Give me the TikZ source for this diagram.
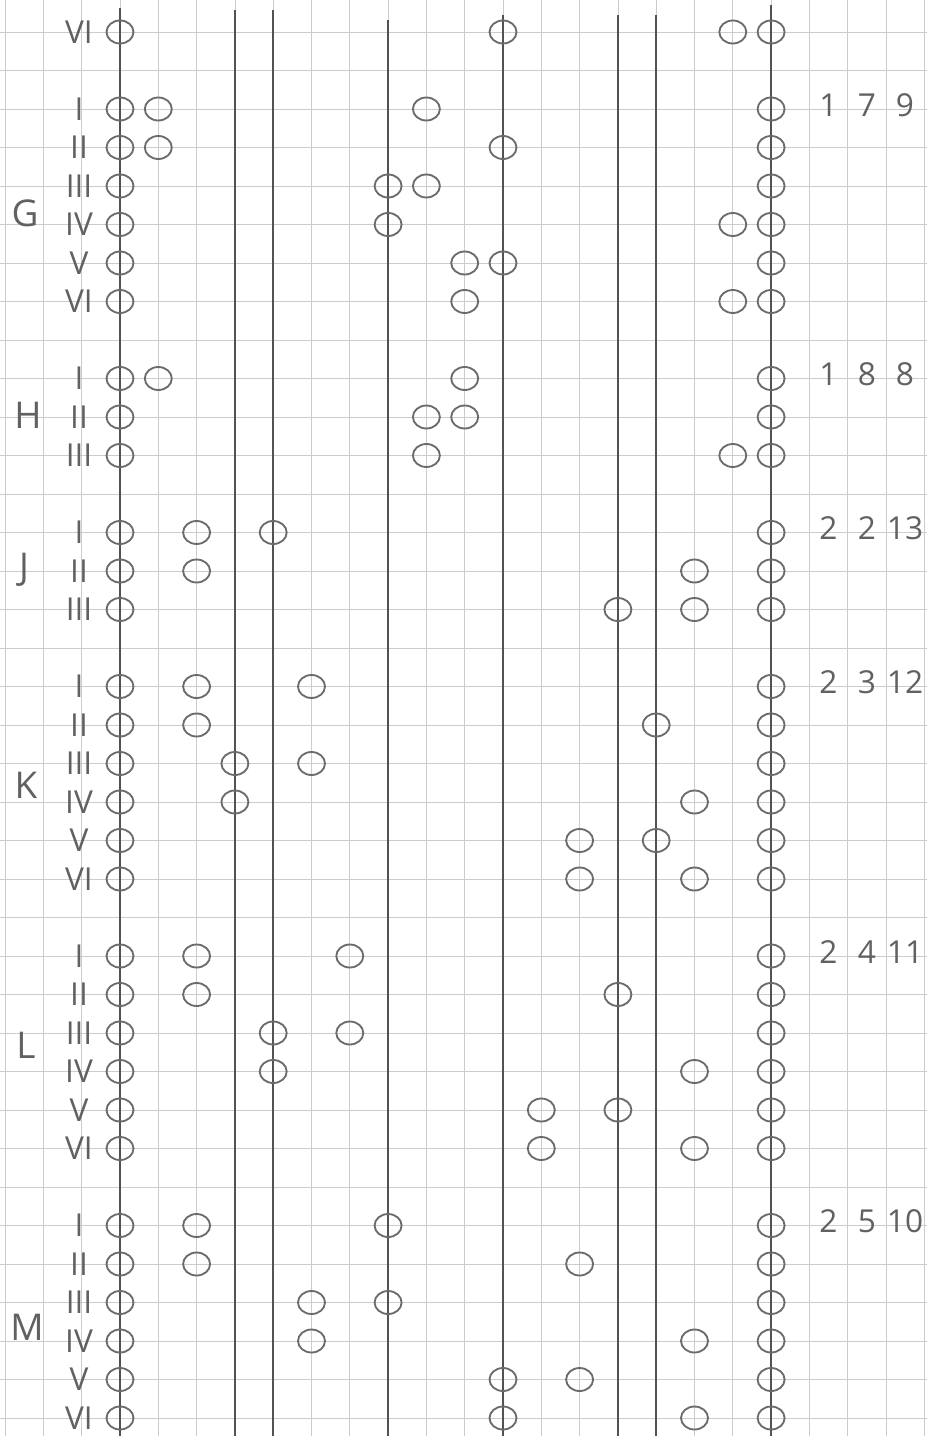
\documentclass[tikz,border=0pt]{standalone}
\usepackage{fontspec}
\setmainfont{Open Sans}
\usetikzlibrary{shapes.geometric}
\begin{document}
\begin{tikzpicture}[x=0.02cm,y=-0.02cm,
  gridline/.style={draw=black!20, line width=0.45pt},
  rule/.style={draw=black!68, line width=0.9pt},
  ring/.style={ellipse, draw=black!58, line width=1.05pt, minimum width=0.54cm, minimum height=0.46cm, inner sep=0pt},
  numeral/.style={text=black!62, inner sep=0pt, font=\fontsize{18}{18}\selectfont},
  group/.style={text=black!62, inner sep=0pt, font=\fontsize{21}{21}\selectfont},
  tally/.style={text=black!62, inner sep=0pt, font=\fontsize{18}{18}\selectfont}]
\fill[white] (0,0) rectangle (927,1436);
\useasboundingbox (0,0) rectangle (927,1436);
% graph paper
\foreach \n in {-3,...,21}
  \draw[gridline] ({120+38.3*\n},0) -- ({120+38.3*\n},1436);
\foreach \k in {0,...,36}
  \draw[gridline] (0,{32+38.5*\k}) -- (927,{32+38.5*\k});
% heavy vertical rules
\foreach \c/\t in {0/8,3/10,4/10,7/20,10/15,13/15,14/15,17/5} {
  \coordinate (top\c) at ({120+38.3*\c},\t);
  \coordinate (bot\c) at ({120+38.3*\c},1436);
  \draw[rule] (top\c) -- (bot\c);
}
% rings
\foreach \k/\a/\b in {0/10/16,
  2/1/8,3/1/10,4/7/8,5/7/16,6/9/10,7/9/16,
  9/1/9,10/8/9,11/8/16,
  13/2/4,14/2/15,15/13/15,
  17/2/5,18/2/14,19/3/5,20/3/15,21/12/14,22/12/15,
  24/2/6,25/2/13,26/4/6,27/4/15,28/11/13,29/11/15,
  31/2/7,32/2/12,33/5/7,34/5/15,35/10/12,36/10/15} {
  \foreach \c in {0,\a,\b,17}
    \node[ring] (o-\k-\c) at ({120+38.3*\c},{32+38.5*\k}) {};
}
% row numerals
\foreach \k/\r in {0/VI,
  2/I,3/II,4/III,5/IV,6/V,7/VI,
  9/I,10/II,11/III,
  13/I,14/II,15/III,
  17/I,18/II,19/III,20/IV,21/V,22/VI,
  24/I,25/II,26/III,27/IV,28/V,29/VI,
  31/I,32/II,33/III,34/IV,35/V,36/VI}
  \node[numeral] (n\k) at (79,{32+38.5*\k}) {\r};
% group letters
\node[group] (gG) at (25,213) {G};
\node[group] (gH) at (28,415) {H};
\node[group] (gJ) at (24,570) {J};
\node[group] (gK) at (26,785) {K};
\node[group] (gL) at (26,1045) {L};
\node[group] (gM) at (27,1327) {M};
% tallies
\foreach \k/\p/\q/\s in {2/1/7/9, 9/1/8/8, 13/2/2/13, 17/2/3/12, 24/2/4/11, 31/2/5/10} {
  \node[tally] (ta\k) at (828.5,{28+38.5*\k}) {\p};
  \node[tally] (tb\k) at (866.8,{28+38.5*\k}) {\q};
  \node[tally] (tc\k) at (905,{28+38.5*\k}) {\s};
}
\end{tikzpicture}
\end{document}
